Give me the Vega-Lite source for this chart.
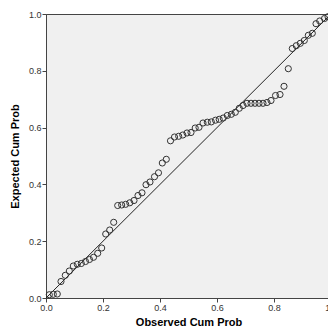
{
  "$schema": "https://vega.github.io/schema/vega-lite/v6.json",
  "autosize": {"type": "none"},
  "padding": {"left": 46, "top": 14, "right": 0, "bottom": 31},
  "width": 285,
  "height": 284,
  "background": "#ffffff",
  "config": {
    "view": {"fill": "#F0F0F0", "stroke": "#444444", "strokeWidth": 1},
    "font": "Liberation Sans",
    "axis": {
      "domainColor": "#444444",
      "tickColor": "#444444",
      "tickSize": 4,
      "labelFont": "Liberation Sans",
      "labelFontSize": 9,
      "labelColor": "#333333",
      "labelPadding": 1,
      "labelFlush": false,
      "titleFont": "Liberation Sans",
      "titleFontSize": 11,
      "titleFontWeight": "bold",
      "titleColor": "#000000",
      "grid": false
    }
  },
  "datasets": {
    "pts": [
      {"obs": 0.0116, "exp": 0.0116},
      {"obs": 0.0256, "exp": 0.0130},
      {"obs": 0.0396, "exp": 0.0141},
      {"obs": 0.0526, "exp": 0.0581},
      {"obs": 0.0677, "exp": 0.0799},
      {"obs": 0.0818, "exp": 0.0951},
      {"obs": 0.0958, "exp": 0.1127},
      {"obs": 0.1098, "exp": 0.1187},
      {"obs": 0.1239, "exp": 0.1215},
      {"obs": 0.1386, "exp": 0.1285},
      {"obs": 0.1526, "exp": 0.1356},
      {"obs": 0.1667, "exp": 0.1433},
      {"obs": 0.1814, "exp": 0.1574},
      {"obs": 0.1954, "exp": 0.1761},
      {"obs": 0.2095, "exp": 0.2254},
      {"obs": 0.2235, "exp": 0.2394},
      {"obs": 0.2375, "exp": 0.2665},
      {"obs": 0.2516, "exp": 0.3257},
      {"obs": 0.2656, "exp": 0.3275},
      {"obs": 0.2796, "exp": 0.3299},
      {"obs": 0.2940, "exp": 0.3352},
      {"obs": 0.3088, "exp": 0.3433},
      {"obs": 0.3228, "exp": 0.3609},
      {"obs": 0.3368, "exp": 0.3704},
      {"obs": 0.3509, "exp": 0.3989},
      {"obs": 0.3649, "exp": 0.4085},
      {"obs": 0.3807, "exp": 0.4271},
      {"obs": 0.3947, "exp": 0.4408},
      {"obs": 0.4081, "exp": 0.4754},
      {"obs": 0.4221, "exp": 0.4884},
      {"obs": 0.4368, "exp": 0.5535},
      {"obs": 0.4509, "exp": 0.5669},
      {"obs": 0.4656, "exp": 0.5694},
      {"obs": 0.4800, "exp": 0.5739},
      {"obs": 0.4947, "exp": 0.5810},
      {"obs": 0.5088, "exp": 0.5827},
      {"obs": 0.5235, "exp": 0.5986},
      {"obs": 0.5368, "exp": 0.6011},
      {"obs": 0.5509, "exp": 0.6162},
      {"obs": 0.5660, "exp": 0.6190},
      {"obs": 0.5800, "exp": 0.6201},
      {"obs": 0.5947, "exp": 0.6261},
      {"obs": 0.6077, "exp": 0.6292},
      {"obs": 0.6218, "exp": 0.6338},
      {"obs": 0.6361, "exp": 0.6426},
      {"obs": 0.6502, "exp": 0.6468},
      {"obs": 0.6642, "exp": 0.6539},
      {"obs": 0.6782, "exp": 0.6680},
      {"obs": 0.6912, "exp": 0.6778},
      {"obs": 0.7053, "exp": 0.6856},
      {"obs": 0.7193, "exp": 0.6856},
      {"obs": 0.7333, "exp": 0.6856},
      {"obs": 0.7474, "exp": 0.6856},
      {"obs": 0.7614, "exp": 0.6856},
      {"obs": 0.7754, "exp": 0.6884},
      {"obs": 0.7895, "exp": 0.6954},
      {"obs": 0.8053, "exp": 0.7130},
      {"obs": 0.8211, "exp": 0.7165},
      {"obs": 0.8351, "exp": 0.7454},
      {"obs": 0.8502, "exp": 0.8074},
      {"obs": 0.8642, "exp": 0.8785},
      {"obs": 0.8782, "exp": 0.8884},
      {"obs": 0.8923, "exp": 0.8968},
      {"obs": 0.9063, "exp": 0.9067},
      {"obs": 0.9204, "exp": 0.9250},
      {"obs": 0.9344, "exp": 0.9320},
      {"obs": 0.9474, "exp": 0.9658},
      {"obs": 0.9604, "exp": 0.9754},
      {"obs": 0.9772, "exp": 0.9842},
      {"obs": 0.9895, "exp": 0.9905}
    ],
    "diag": [{"x0": 0, "y0": 0, "x1": 1, "y1": 1}]
  },
  "layer": [
    {
      "data": {"name": "diag"},
      "mark": {"type": "rule", "color": "#222222", "strokeWidth": 1},
      "encoding": {
        "x": {"field": "x0", "type": "quantitative"},
        "y": {"field": "y0", "type": "quantitative"},
        "x2": {"field": "x1"},
        "y2": {"field": "y1"}
      }
    },
    {
      "data": {"name": "pts"},
      "mark": {"type": "point", "shape": "circle", "filled": false, "stroke": "#333333", "strokeWidth": 1, "size": 38, "opacity": 1},
      "encoding": {
        "x": {
          "field": "obs", "type": "quantitative",
          "scale": {"domain": [0, 1], "nice": false, "zero": true},
          "axis": {"title": "Observed Cum Prob", "values": [0, 0.2, 0.4, 0.6, 0.8, 1], "format": ".1f", "titlePadding": 4}
        },
        "y": {
          "field": "exp", "type": "quantitative",
          "scale": {"domain": [0, 1], "nice": false, "zero": true},
          "axis": {"title": "Expected Cum Prob", "values": [0, 0.2, 0.4, 0.6, 0.8, 1], "format": ".1f", "titlePadding": 8}
        }
      }
    }
  ]
}
